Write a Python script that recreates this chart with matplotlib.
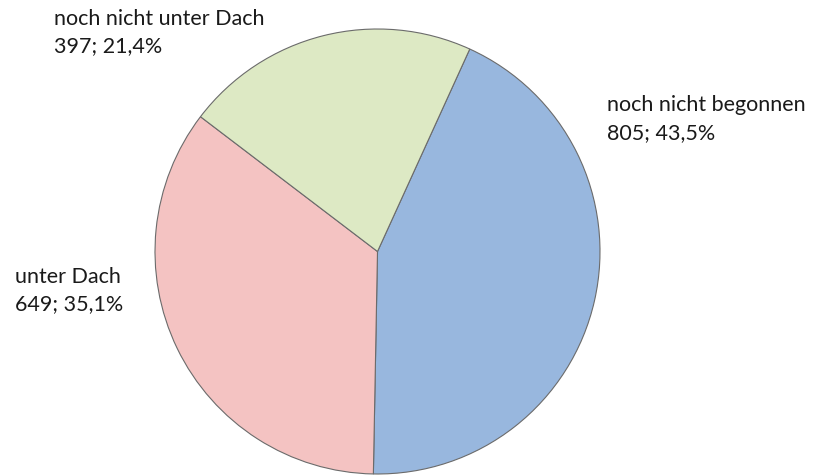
import matplotlib.pyplot as plt

# Baufortschritt
kategorien = ["noch nicht begonnen", "unter Dach", "noch nicht unter Dach"]
werte = [805, 649, 397]
farben = ["#98B7DE", "#F4C3C2", "#DDE9C4"]

# label positions (data coords, radius = 1)
label_pos = [(1.03, 0.60), (-1.63, -0.17), (-1.455, 0.99)]

plt.rcParams['font.family'] = ['Lato', 'DejaVu Sans']

fig = plt.figure(figsize=(8.27, 4.77), dpi=100)
ax = fig.add_axes([155/827, 2/477, 445/827, 445/477])

total = sum(werte)
ax.pie(werte, colors=farben, startangle=65.5, counterclock=False, radius=1,
       wedgeprops=dict(edgecolor="#6b6b6b", linewidth=0.8))

for name, w, (x, y) in zip(kategorien, werte, label_pos):
    pct = f"{w/total*100:.1f}".replace(".", ",")
    ax.text(x, y, f"{name}\n{w}; {pct}%", ha="left", va="center",
            fontsize=15.5, color="#1a1a1a", linespacing=1.45)

ax.set_xlim(-1.0, 1.0)
ax.set_ylim(-1.0, 1.0)
ax.set_aspect("equal")
ax.axis("off")

fig.savefig("out.png", dpi=100)
